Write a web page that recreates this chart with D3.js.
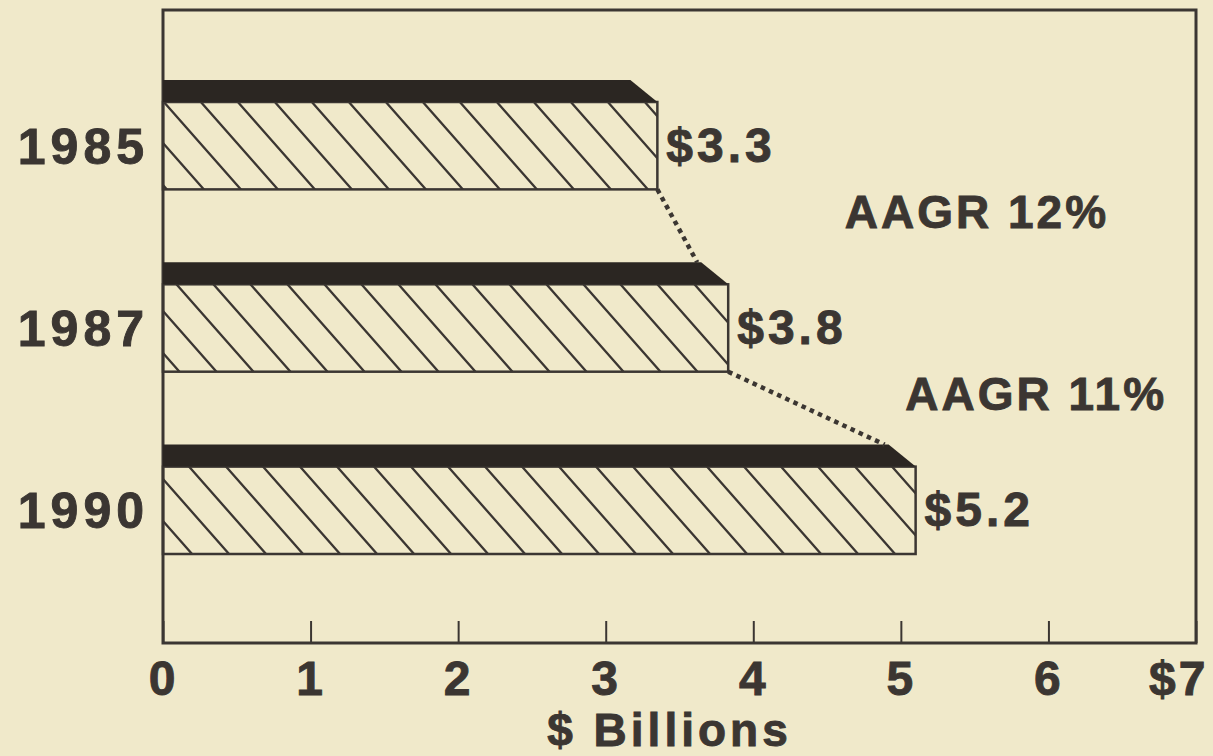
<!DOCTYPE html>
<html>
<head>
<meta charset="utf-8">
<script src="https://cdn.jsdelivr.net/npm/d3@7"></script>
<style>
    body { margin: 0; background: #f0e9ca; }
    svg { display: block; }
    text { font-family: "Liberation Sans", Arial, Helvetica, sans-serif; font-weight: bold; fill: #3b3632; stroke: #3b3632; stroke-width: 0.9px; }
</style>
</head>
<body>
<script>
// chart data
const years = ["1985", "1987", "1990"];
const values = [3.35, 3.83, 5.1];          // bar lengths as drawn
const valueLabels = ["$3.3", "$3.8", "$5.2"];
const growthLabels = ["AAGR 12%", "AAGR 11%"];
const xTicks = [0, 1, 2, 3, 4, 5, 6, 7];

const width = 1213,
    height = 756,
    ink = "#3b3632",
    band = "#2b2622";

const svg = d3.select("body")
    .append("svg")
    .attr("width", width)
    .attr("height", height);

const xScale = d3.scaleLinear()
    .domain([0, 7])
    .range([163, 1196]);

const yScale = d3.scaleBand()
    .domain(years)
    .range([80, 554])
    .paddingInner(0.4)
    .paddingOuter(0);

const bandH = 22,
    slant = 27;

// hatch pattern
const defs = svg.append("defs");
const pw = 37, ph = 42;
const pat = defs.append("pattern")
    .attr("id", "hatch")
    .attr("patternUnits", "userSpaceOnUse")
    .attr("width", pw)
    .attr("height", ph);
pat.append("path")
    .attr("d", `M0,0 L${pw},${ph} M${-pw / 4},${ph - ph / 4} L${pw / 4},${ph + ph / 4} M${pw - pw / 4},${-ph / 4} L${pw + pw / 4},${ph / 4}`)
    .attr("stroke", ink)
    .attr("stroke-width", 2.3);

// frame
svg.append("rect")
    .attr("x", xScale(0))
    .attr("y", 10)
    .attr("width", xScale(7) - xScale(0))
    .attr("height", 643 - 10)
    .attr("fill", "none")
    .attr("stroke", ink)
    .attr("stroke-width", 3);

// x axis
const axis = svg.append("g")
    .attr("transform", "translate(0,643)")
    .call(d3.axisBottom(xScale)
        .tickValues(xTicks)
        .tickSizeInner(-22)
        .tickSizeOuter(0)
        .tickPadding(18)
        .tickFormat(d => d === 7 ? "$7" : d));
axis.select(".domain").remove();
axis.selectAll("line").attr("stroke", ink).attr("stroke-width", 2);
axis.selectAll("text")
    .attr("fill", ink)
    .style("font-size", "48px")
    .style("letter-spacing", "3px")
    .style("font-family", "Liberation Sans, Arial, sans-serif")
    .style("font-weight", "bold");
axis.selectAll(".tick").filter(d => d === 7).select("text")
    .attr("text-anchor", "end")
    .attr("x", 12);

svg.append("text")
    .attr("x", (xScale(0) + xScale(7)) / 2 - 10)
    .attr("y", 746)
    .attr("text-anchor", "middle")
    .style("font-size", "46px")
    .style("letter-spacing", "4px")
    .text("$ Billions");

// bars
const bars = svg.selectAll(".bar")
    .data(years)
    .enter()
    .append("g")
    .attr("class", "bar");

bars.append("rect")
    .attr("x", xScale(0))
    .attr("y", d => yScale(d) + bandH)
    .attr("width", (d, i) => xScale(values[i]) - xScale(0))
    .attr("height", yScale.bandwidth() - bandH)
    .attr("fill", "url(#hatch)")
    .attr("stroke", ink)
    .attr("stroke-width", 2.5);

bars.append("path")
    .attr("d", (d, i) => {
        const x0 = xScale(0), x1 = xScale(values[i]), y0 = yScale(d);
        return `M${x0},${y0} L${x1 - slant},${y0} L${x1},${y0 + bandH} L${x0},${y0 + bandH} Z`;
    })
    .attr("fill", band);

// year labels
bars.append("text")
    .attr("x", xScale(0) - 14)
    .attr("y", d => yScale(d) + bandH + (yScale.bandwidth() - bandH) / 2 + 18)
    .attr("text-anchor", "end")
    .style("font-size", "50px")
    .style("letter-spacing", "5px")
    .text(d => d);

// value labels
bars.append("text")
    .attr("x", (d, i) => xScale(values[i]) + 9)
    .attr("y", d => yScale(d) + bandH + (yScale.bandwidth() - bandH) / 2 + 16)
    .style("font-size", "48px")
    .style("letter-spacing", "4px")
    .text((d, i) => valueLabels[i]);

// dotted connectors
svg.selectAll(".link")
    .data(d3.pairs(d3.range(years.length)))
    .enter()
    .append("line")
    .attr("class", "link")
    .attr("x1", ([a]) => xScale(values[a]))
    .attr("y1", ([a]) => yScale(years[a]) + yScale.bandwidth())
    .attr("x2", ([, b]) => xScale(values[b]) - slant - 4)
    .attr("y2", ([, b]) => yScale(years[b]))
    .attr("stroke", ink)
    .attr("stroke-width", 4.5)
    .attr("stroke-dasharray", "4.5 4.5");

// growth labels
const growthX = [4.62, 5.03];
svg.selectAll(".aagr")
    .data(growthLabels)
    .enter()
    .append("text")
    .attr("class", "aagr")
    .attr("x", (d, i) => xScale(growthX[i]))
    .attr("y", (d, i) => (yScale(years[i]) + yScale(years[i + 1])) / 2 + yScale.bandwidth() / 2 + 2)
    .style("font-size", "46px")
    .style("letter-spacing", "3px")
    .text(d => d);
</script>
</body>
</html>
